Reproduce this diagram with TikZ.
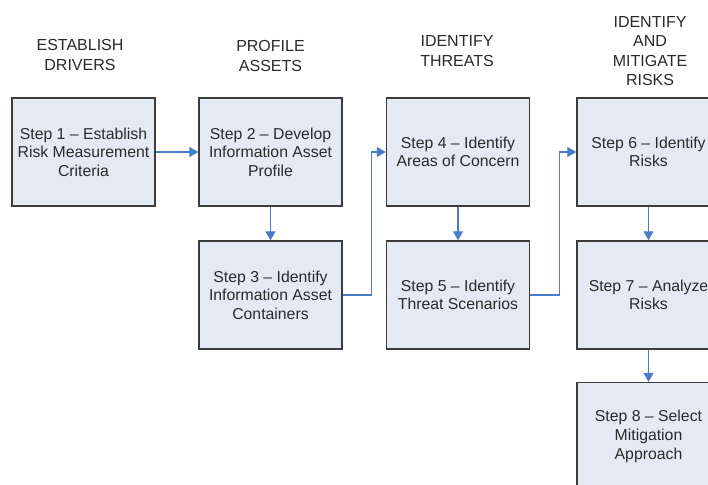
\documentclass[tikz,border=0pt]{standalone}
\usepackage{fontspec}
\setmainfont{Liberation Sans}
\usetikzlibrary{arrows.meta}
\definecolor{boxfill}{HTML}{E4EAF4}
\definecolor{boxline}{HTML}{3C3C3C}
\definecolor{arrowblue}{HTML}{4A7CC9}
\definecolor{txt}{HTML}{2A2A2A}
\begin{document}
\begin{tikzpicture}[x=1pt,y=-1pt,
  stepbox/.style={draw=boxline, fill=boxfill, line width=1.4pt, minimum width=143pt, minimum height=108pt, align=center, text=txt, font=\fontsize{15.8}{18.6}\selectfont, inner sep=0pt},
  header/.style={align=center, text=txt, font=\fontsize{16}{19.5}\selectfont, inner sep=0pt},
  conn/.style={draw=arrowblue, line width=1.2pt, -{Triangle[length=9pt,width=10pt]}}]
\useasboundingbox (0,0) rectangle (708,484);
\clip (0,0) rectangle (708,484);
\fill[white] (0,0) rectangle (708,484);
% headers
\node[header] (h1) at (80,55) {ESTABLISH\\DRIVERS};
\node[header] (h2) at (270.5,56) {PROFILE\\ASSETS};
\node[header] (h3) at (457,51) {IDENTIFY\\THREATS};
\node[header] (h4) at (650,51) {IDENTIFY\\AND\\MITIGATE\\RISKS};
% steps
\node[stepbox] (s1) at (83.5,152) {Step 1 – Establish\\Risk Measurement\\Criteria};
\node[stepbox] (s2) at (270.5,152) {Step 2 – Develop\\Information Asset\\Profile};
\node[stepbox] (s3) at (270.5,295) {Step 3 – Identify\\Information Asset\\Containers};
\node[stepbox] (s4) at (458,152) {Step 4 – Identify\\Areas of Concern};
\node[stepbox] (s5) at (458,295) {Step 5 – Identify\\Threat Scenarios};
\node[stepbox] (s6) at (648.5,152) {Step 6 – Identify\\Risks};
\node[stepbox] (s7) at (648.5,295) {Step 7 – Analyze\\Risks};
\node[stepbox] (s8) at (648.5,436.5) {Step 8 – Select\\Mitigation\\Approach};
% connectors
\draw[conn] (s1) -- (s2);
\draw[conn] (s2) -- (s3);
\draw[conn] (s3.east) -- ++(29,0) |- (s4.west);
\draw[conn] (s4) -- (s5);
\draw[conn] (s5.east) -- ++(29,0) |- (s6.west);
\draw[conn] (s6) -- (s7);
\draw[conn] (s7) -- (s8);
\end{tikzpicture}
\end{document}
